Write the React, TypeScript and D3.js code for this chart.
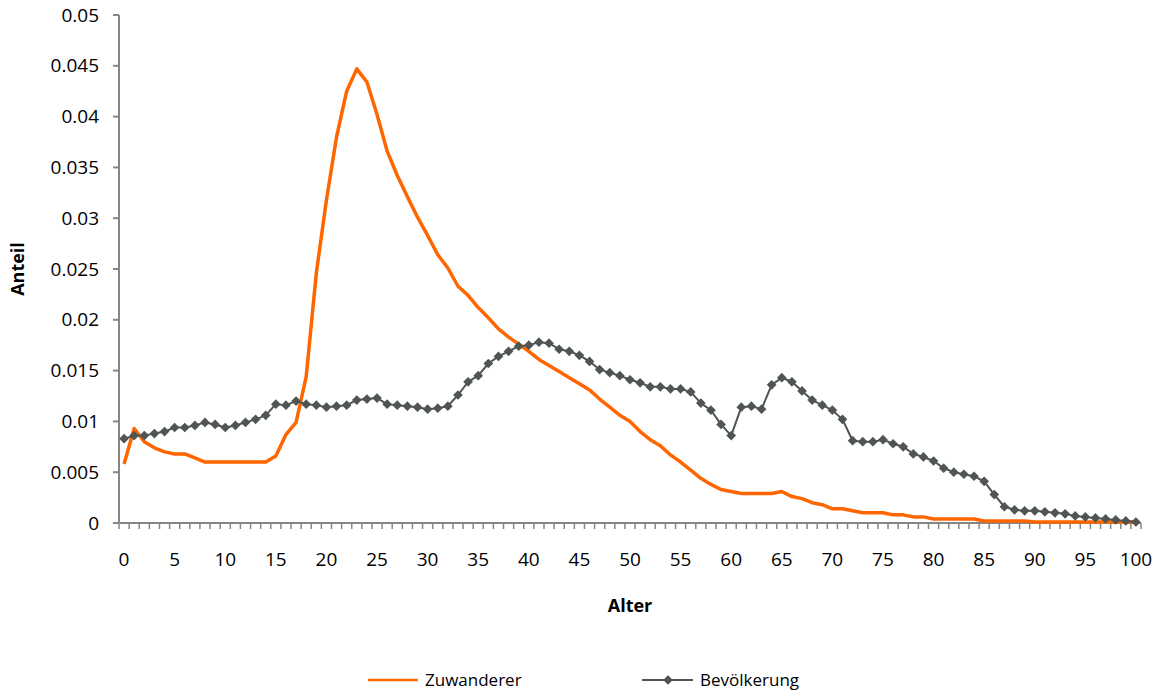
import React from "react";
import * as d3 from "d3";

const ages: number[] = d3.range(0, 101);

const zuwanderer: number[] = [
  0.0058, 0.0093, 0.0080, 0.0074, 0.0070, 0.0068, 0.0068, 0.0064, 0.0060, 0.0060,
  0.0060, 0.0060, 0.0060, 0.0060, 0.0060, 0.0066, 0.0087, 0.0099, 0.0144, 0.0246,
  0.0318, 0.0380, 0.0425, 0.0447, 0.0434, 0.0402, 0.0366, 0.0342, 0.0321, 0.0301,
  0.0283, 0.0264, 0.0251, 0.0233, 0.0224, 0.0212, 0.0202, 0.0191, 0.0183, 0.0176,
  0.0169, 0.0161, 0.0155, 0.0149, 0.0143, 0.0137, 0.0131, 0.0122, 0.0114, 0.0106,
  0.0100, 0.0090, 0.0082, 0.0076, 0.0067, 0.0060, 0.0052, 0.0044, 0.0038, 0.0033,
  0.0031, 0.0029, 0.0029, 0.0029, 0.0029, 0.0031, 0.0026, 0.0024, 0.0020, 0.0018,
  0.0014, 0.0014, 0.0012, 0.0010, 0.0010, 0.0010, 0.0008, 0.0008, 0.0006, 0.0006,
  0.0004, 0.0004, 0.0004, 0.0004, 0.0004, 0.0002, 0.0002, 0.0002, 0.0002, 0.0002,
  0.0001, 0.0001, 0.0001, 0.0001, 0.0001, 0.0001, 0.0001, 0.0001, 0.0001, 0.0001,
  0.0001,
];

const bevoelkerung: number[] = [
  0.0083, 0.0086, 0.0086, 0.0088, 0.0090, 0.0094, 0.0094, 0.0096, 0.0099, 0.0097,
  0.0094, 0.0096, 0.0099, 0.0102, 0.0106, 0.0117, 0.0116, 0.0120, 0.0117, 0.0116,
  0.0114, 0.0115, 0.0116, 0.0121, 0.0122, 0.0123, 0.0117, 0.0116, 0.0115, 0.0114,
  0.0112, 0.0113, 0.0115, 0.0126, 0.0139, 0.0145, 0.0157, 0.0164, 0.0169, 0.0174,
  0.0175, 0.0178, 0.0177, 0.0171, 0.0169, 0.0165, 0.0159, 0.0151, 0.0148, 0.0145,
  0.0141, 0.0138, 0.0134, 0.0134, 0.0132, 0.0132, 0.0129, 0.0118, 0.0111, 0.0097,
  0.0086, 0.0114, 0.0115, 0.0112, 0.0136, 0.0143, 0.0139, 0.0130, 0.0121, 0.0116,
  0.0111, 0.0102, 0.0081, 0.0080, 0.0080, 0.0082, 0.0078, 0.0075, 0.0068, 0.0065,
  0.0061, 0.0054, 0.0050, 0.0048, 0.0046, 0.0041, 0.0028, 0.0016, 0.0013, 0.0012,
  0.0012, 0.0011, 0.0010, 0.0009, 0.0007, 0.0006, 0.0005, 0.0004, 0.0003, 0.0002,
  0.0001,
];

const yTicks: number[] = [0, 0.005, 0.01, 0.015, 0.02, 0.025, 0.03, 0.035, 0.04, 0.045, 0.05];
const xTickLabels: number[] = d3.range(0, 101, 5);

const seriesNames = ["Zuwanderer", "Bevölkerung"];

const W = 1160;
const H = 690;
const left = 119;
const right = 1141;
const top = 15;
const bottom = 523;

const ORANGE = "#FF6600";
const GRAY = "#4F5551";
const AXIS = "#868686";
const FONT = "'Open Sans', sans-serif";

export default function App() {
  const x = d3.scaleBand<number>().domain(ages).range([left, right]).paddingInner(0).paddingOuter(0);
  const cx = (a: number) => (x(a) as number) + x.bandwidth() / 2;
  const y = d3.scaleLinear().domain([0, 0.05]).range([bottom, top]);

  const line = d3
    .line<number>()
    .x((_, i) => cx(ages[i]))
    .y((d) => y(d));

  const boundaries = d3.range(0, 102).map((i) => left + i * x.step());
  const diamond = d3.symbol().type(d3.symbolDiamond2).size(60)();
  const fmt = (v: number) => (v === 0 ? "0" : String(+v.toFixed(3)));

  return (
    <svg width={W} height={H} style={{ position: "absolute", left: 0, top: 0, background: "#fff" }}>
      {/* y axis */}
      <line x1={left} x2={left} y1={top} y2={bottom} stroke={AXIS} strokeWidth={2} />
      {yTicks.map((t) => (
        <g key={"y" + t}>
          <line x1={left - 6} x2={left} y1={y(t)} y2={y(t)} stroke={AXIS} strokeWidth={2} />
          <text x={99} y={y(t)} dy="0.35em" textAnchor="end" fontFamily={FONT} fontSize={19} fill="#000">
            {fmt(t)}
          </text>
        </g>
      ))}
      {/* x axis */}
      <line x1={left - 6} x2={right} y1={bottom} y2={bottom} stroke={AXIS} strokeWidth={2} />
      {boundaries.map((b, i) => (
        <line key={"xt" + i} x1={b} x2={b} y1={bottom} y2={bottom + 6} stroke={AXIS} strokeWidth={1.5} />
      ))}
      {xTickLabels.map((a) => (
        <text key={"xl" + a} x={cx(a)} y={566} textAnchor="middle" fontFamily={FONT} fontSize={19} fill="#000">
          {a}
        </text>
      ))}
      <text x={630} y={612} textAnchor="middle" fontFamily={FONT} fontSize={18} fontWeight="bold" fill="#000">
        Alter
      </text>
      <text
        transform={`translate(24,269) rotate(-90)`}
        textAnchor="middle"
        fontFamily={FONT}
        fontSize={18}
        fontWeight="bold"
        fill="#000"
      >
        Anteil
      </text>

      {/* series */}
      <path d={line(zuwanderer) || ""} fill="none" stroke={ORANGE} strokeWidth={3.5} strokeLinejoin="round" />
      <path d={line(bevoelkerung) || ""} fill="none" stroke={GRAY} strokeWidth={2} strokeLinejoin="round" />
      {bevoelkerung.map((v, i) => (
        <path key={"d" + i} d={diamond || ""} transform={`translate(${cx(ages[i])},${y(v)})`} fill={GRAY} />
      ))}

      {/* legend */}
      <line x1={368} x2={418} y1={680} y2={680} stroke={ORANGE} strokeWidth={2.5} />
      <text x={425} y={686} fontFamily={FONT} fontSize={17} fill="#000">
        {seriesNames[0]}
      </text>
      <line x1={642} x2={693} y1={680} y2={680} stroke={GRAY} strokeWidth={2} />
      <path d={diamond || ""} transform="translate(668,680)" fill={GRAY} />
      <text x={700} y={686} fontFamily={FONT} fontSize={17} fill="#000">
        {seriesNames[1]}
      </text>
    </svg>
  );
}
